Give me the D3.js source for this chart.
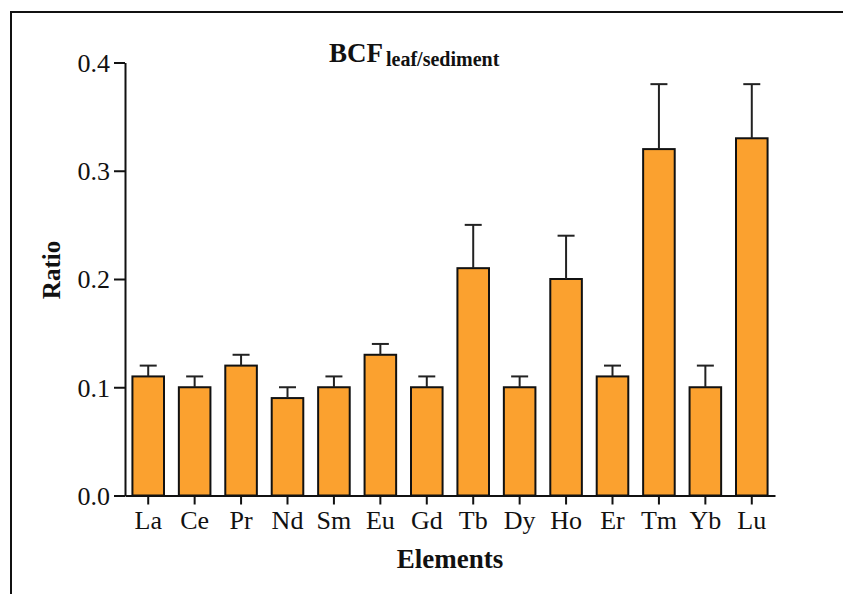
<!DOCTYPE html>
<html><head><meta charset="utf-8">
<script src="https://cdn.jsdelivr.net/npm/d3@7"></script>
<style>html,body{margin:0;padding:0;background:#fff;}svg{display:block;}</style>
</head><body>
<svg id="chart" width="843" height="594"></svg>
<script>
const categories = ["La","Ce","Pr","Nd","Sm","Eu","Gd","Tb","Dy","Ho","Er","Tm","Yb","Lu"];
const values = [0.11,0.10,0.12,0.09,0.10,0.13,0.10,0.21,0.10,0.20,0.11,0.32,0.10,0.33];
const errors = [0.01,0.01,0.01,0.01,0.01,0.01,0.01,0.04,0.01,0.04,0.01,0.06,0.02,0.05];
const yTicks = [0.0,0.1,0.2,0.3,0.4];

const svg = d3.select("#chart");
const font = "'Liberation Serif','Times New Roman',serif";

// outer frame
svg.append("rect").attr("x",11).attr("y",12).attr("width",900).attr("height",700)
  .attr("fill","none").attr("stroke","#111").attr("stroke-width",2);

const x = d3.scaleBand().domain(categories).range([125,775]).paddingInner(0.32).paddingOuter(0.16);
const y = d3.scaleLinear().domain([0,0.4]).range([495.5,62.5]);

// bars
svg.append("g").selectAll("rect").data(categories).join("rect")
  .attr("x", d => x(d)).attr("width", x.bandwidth())
  .attr("y", (d,i) => y(values[i])).attr("height", (d,i) => y(0)-y(values[i]))
  .attr("fill","#FBA12F").attr("stroke","#111").attr("stroke-width",2);

// error bars
const eg = svg.append("g").attr("stroke","#222").attr("stroke-width",2);
categories.forEach((c,i) => {
  const cx = x(c) + x.bandwidth()/2;
  eg.append("line").attr("x1",cx).attr("x2",cx).attr("y1",y(values[i])).attr("y2",y(values[i]+errors[i]));
  eg.append("line").attr("x1",cx-8.5).attr("x2",cx+8.5).attr("y1",y(values[i]+errors[i])).attr("y2",y(values[i]+errors[i]));
});

// axes
const yAxis = svg.append("g").attr("transform","translate(125,0)")
  .call(d3.axisLeft(y).tickValues(yTicks).tickFormat(d3.format(".1f")).tickSize(11).tickSizeOuter(0).tickPadding(4));
const xAxis = svg.append("g").attr("transform","translate(0,495.5)")
  .call(d3.axisBottom(x).tickSize(9).tickSizeOuter(0).tickPadding(6));
[yAxis,xAxis].forEach(a => {
  a.select(".domain").attr("stroke","#111").attr("stroke-width",2);
  a.selectAll(".tick line").attr("stroke","#111").attr("stroke-width",2);
  a.selectAll(".tick text").attr("font-family",font).attr("font-size",26).attr("fill","#111");
});
yAxis.selectAll(".tick text").attr("dy","0.34em");

// title
const t = svg.append("text").attr("x",329).attr("y",62).attr("font-family",font)
  .attr("font-weight","bold").attr("fill","#111");
t.append("tspan").attr("font-size",27).text("BCF");
t.append("tspan").attr("font-size",20).attr("dy",4).attr("dx",3).text("leaf/sediment");

// axis titles
svg.append("text").attr("x",450).attr("y",568).attr("text-anchor","middle")
  .attr("font-family",font).attr("font-weight","bold").attr("font-size",27).attr("fill","#111").text("Elements");
svg.append("text").attr("transform","translate(60,270) rotate(-90)").attr("text-anchor","middle")
  .attr("font-family",font).attr("font-weight","bold").attr("font-size",25).attr("fill","#111").text("Ratio");
</script>
</body></html>
